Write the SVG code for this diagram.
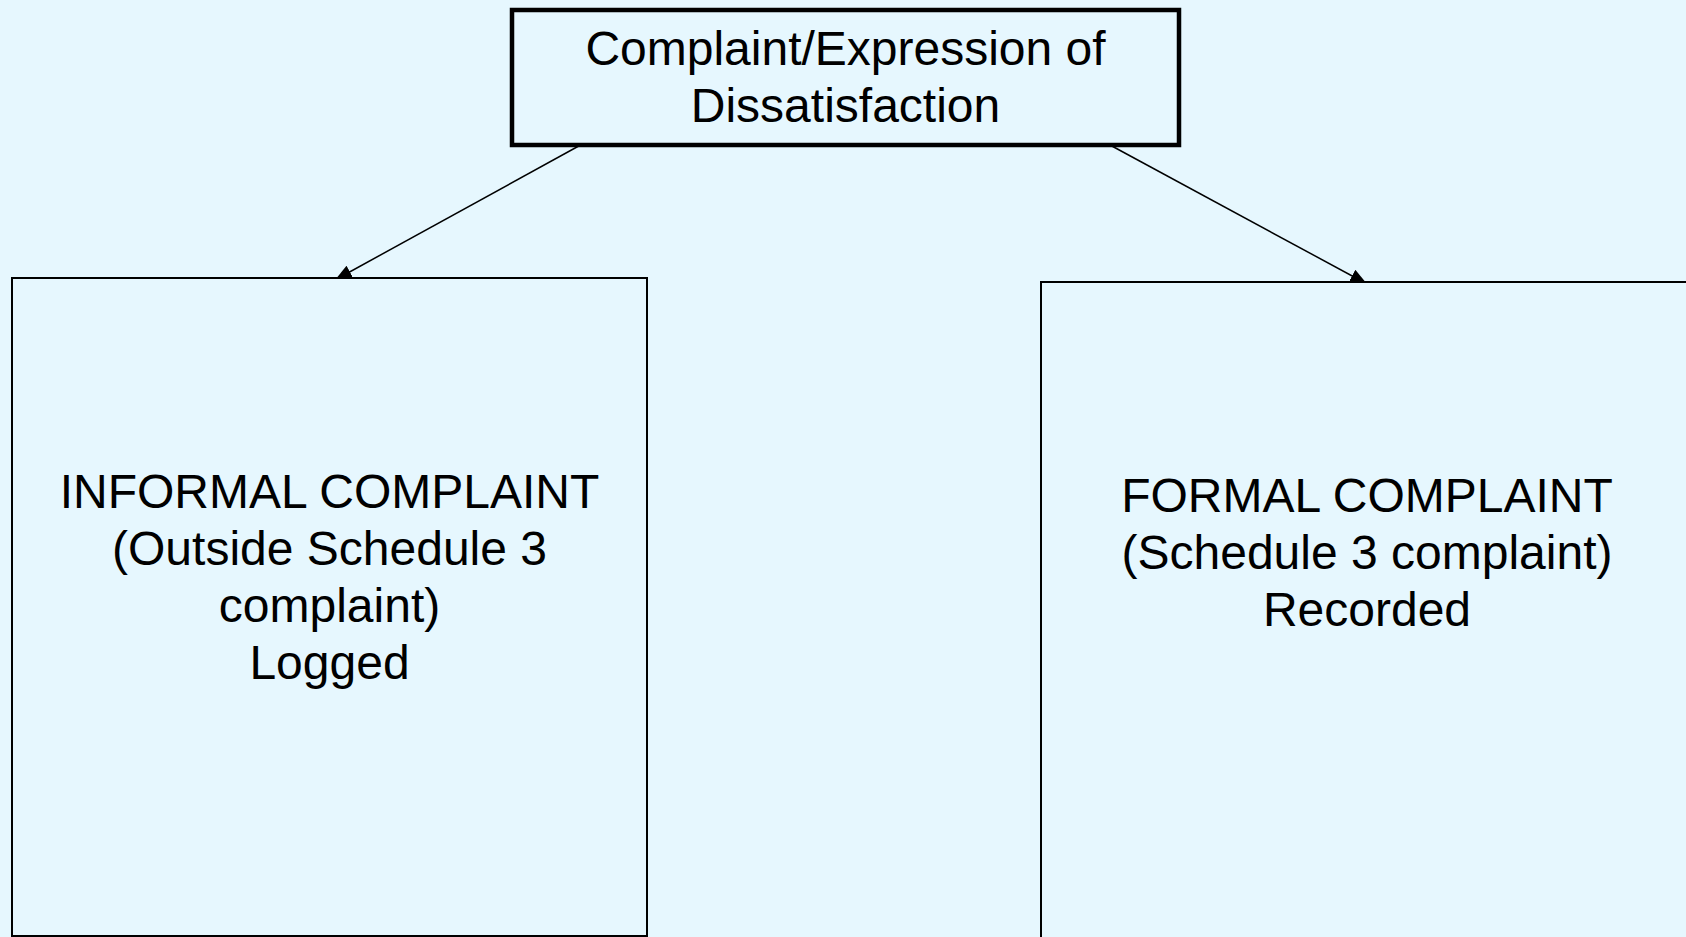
<svg xmlns="http://www.w3.org/2000/svg" width="1686" height="937" viewBox="0 0 1686 937">
  <style>
    .bg { fill: #E6F7FE; }
    .box { fill: #E6F7FE; stroke: #000; }
    .lbl { font-family: "Liberation Sans", Arial, sans-serif; font-size: 48px; fill: #000; text-anchor: middle; }
    .conn { stroke: #000; stroke-width: 1.5; fill: none; }
  </style>
  <defs>
    <marker id="arrow" markerUnits="userSpaceOnUse" markerWidth="18" markerHeight="16" refX="17" refY="8" orient="auto">
      <path d="M0,1 L17,8 L0,15 Z" fill="#000"/>
    </marker>
  </defs>
  <rect class="bg" x="0" y="0" width="1686" height="937"/>
  <g id="connectors">
    <line class="conn" x1="586" y1="142" x2="335" y2="280" marker-end="url(#arrow)"/>
    <line class="conn" x1="1110" y1="145" x2="1367" y2="284" marker-end="url(#arrow)"/>
  </g>
  <g id="node-top">
    <rect class="box" x="512" y="10" width="667" height="135" stroke-width="4.5"/>
    <text class="lbl" x="845.5" y="65">Complaint/Expression of</text>
    <text class="lbl" x="845.5" y="122">Dissatisfaction</text>
  </g>
  <g id="node-informal">
    <rect class="box" x="12" y="278" width="635" height="658" stroke-width="2"/>
    <text class="lbl" x="329.5" y="508">INFORMAL COMPLAINT</text>
    <text class="lbl" x="329.5" y="565">(Outside Schedule 3</text>
    <text class="lbl" x="329.5" y="622">complaint)</text>
    <text class="lbl" x="329.5" y="679">Logged</text>
  </g>
  <g id="node-formal">
    <rect class="box" x="1041" y="282" width="653" height="680" stroke-width="2"/>
    <text class="lbl" x="1367" y="512">FORMAL COMPLAINT</text>
    <text class="lbl" x="1367" y="569">(Schedule 3 complaint)</text>
    <text class="lbl" x="1367" y="626">Recorded</text>
  </g>
</svg>
